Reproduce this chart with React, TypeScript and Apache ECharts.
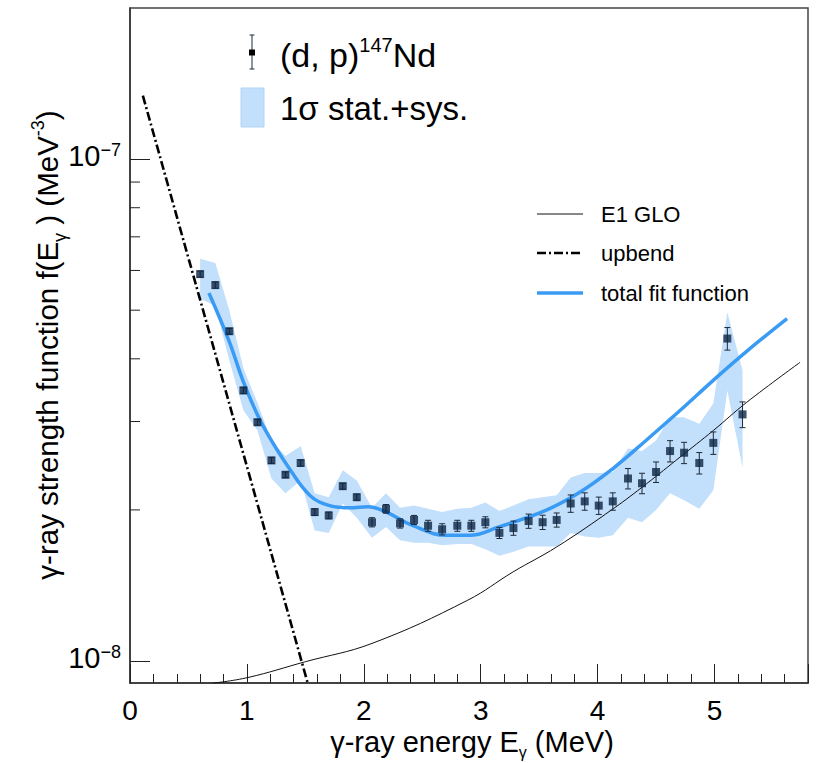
import React, { useEffect, useRef } from 'react';
import * as echarts from 'echarts';

// ---- data ----
const energies = [0.60, 0.73, 0.85, 0.97, 1.09, 1.21, 1.33, 1.46, 1.58, 1.70, 1.82, 1.94, 2.07, 2.19, 2.31, 2.43, 2.55, 2.67, 2.80, 2.92, 3.04, 3.16, 3.28, 3.41, 3.53, 3.65, 3.77, 3.89, 4.01, 4.13, 4.26, 4.38, 4.50, 4.62, 4.74, 4.87, 4.99, 5.11, 5.24];
const strength = [5.90e-8, 5.61e-8, 4.54e-8, 3.46e-8, 2.99e-8, 2.51e-8, 2.35e-8, 2.48e-8, 1.98e-8, 1.95e-8, 2.23e-8, 2.12e-8, 1.89e-8, 2.01e-8, 1.88e-8, 1.91e-8, 1.86e-8, 1.83e-8, 1.86e-8, 1.86e-8, 1.89e-8, 1.80e-8, 1.84e-8, 1.90e-8, 1.89e-8, 1.91e-8, 2.06e-8, 2.08e-8, 2.04e-8, 2.08e-8, 2.31e-8, 2.26e-8, 2.38e-8, 2.62e-8, 2.60e-8, 2.48e-8, 2.72e-8, 4.39e-8, 3.10e-8];
const strengthErr = [0.08e-8, 0.08e-8, 0.06e-8, 0.05e-8, 0.04e-8, 0.035e-8, 0.03e-8, 0.035e-8, 0.03e-8, 0.03e-8, 0.03e-8, 0.03e-8, 0.04e-8, 0.04e-8, 0.04e-8, 0.04e-8, 0.047e-8, 0.047e-8, 0.047e-8, 0.047e-8, 0.048e-8, 0.046e-8, 0.06e-8, 0.062e-8, 0.062e-8, 0.062e-8, 0.082e-8, 0.083e-8, 0.081e-8, 0.083e-8, 0.108e-8, 0.106e-8, 0.112e-8, 0.128e-8, 0.127e-8, 0.122e-8, 0.14e-8, 0.227e-8, 0.183e-8];
const bandUpper = [6.33e-8, 6.21e-8, 4.99e-8, 3.83e-8, 3.27e-8, 2.75e-8, 2.56e-8, 2.68e-8, 2.16e-8, 2.12e-8, 2.40e-8, 2.29e-8, 2.02e-8, 2.16e-8, 2.02e-8, 2.04e-8, 2.01e-8, 1.98e-8, 2.01e-8, 2.02e-8, 2.07e-8, 1.99e-8, 2.04e-8, 2.10e-8, 2.12e-8, 2.14e-8, 2.32e-8, 2.37e-8, 2.37e-8, 2.38e-8, 2.65e-8, 2.62e-8, 2.75e-8, 3.06e-8, 3.06e-8, 2.97e-8, 3.26e-8, 4.95e-8, 3.79e-8];
const bandLower = [5.27e-8, 5.10e-8, 3.97e-8, 3.16e-8, 2.88e-8, 2.31e-8, 2.16e-8, 2.29e-8, 1.82e-8, 1.80e-8, 2.06e-8, 1.93e-8, 1.76e-8, 1.85e-8, 1.74e-8, 1.72e-8, 1.72e-8, 1.70e-8, 1.71e-8, 1.71e-8, 1.67e-8, 1.62e-8, 1.65e-8, 1.69e-8, 1.69e-8, 1.69e-8, 1.80e-8, 1.77e-8, 1.76e-8, 1.78e-8, 1.93e-8, 1.89e-8, 2.00e-8, 2.16e-8, 2.09e-8, 2.01e-8, 2.19e-8, 3.46e-8, 2.43e-8];

const e1GloE = [0.705, 1.009, 1.502, 2.070, 2.890, 3.277, 3.649, 4.134, 4.420, 4.705, 4.990, 5.276, 5.732];
const e1GloF = [9.03e-9, 9.27e-9, 9.97e-9, 1.084e-8, 1.322e-8, 1.505e-8, 1.687e-8, 2.011e-8, 2.256e-8, 2.548e-8, 2.879e-8, 3.277e-8, 3.936e-8];

const upbendE = [0.11, 1.52];
const upbendF = [1.338e-7, 9.04e-9];

const fitE = [0.675, 0.846, 0.966, 1.086, 1.194, 1.337, 1.537, 1.708, 1.879, 2.036, 2.193, 2.421, 2.707, 2.907, 3.155, 3.557, 3.848, 4.131, 4.414, 4.705, 4.987, 5.270, 5.621];
const fitF = [5.41e-8, 4.35e-8, 3.62e-8, 3.11e-8, 2.79e-8, 2.47e-8, 2.14e-8, 2.04e-8, 2.02e-8, 2.03e-8, 1.98e-8, 1.86e-8, 1.78e-8, 1.78e-8, 1.85e-8, 1.996e-8, 2.168e-8, 2.418e-8, 2.750e-8, 3.155e-8, 3.62e-8, 4.13e-8, 4.81e-8];

const xTickLabels = ['0', '1', '2', '3', '4', '5'];
const yMinorTicks = [2e-8, 3e-8, 4e-8, 5e-8, 6e-8, 7e-8, 8e-8, 9e-8];

const X_MIN = 0;
const X_MAX = 5.8;
const Y_MIN = 9.04e-9;
const Y_MAX = 2.0e-7;

const FONT_NAME = 'Liberation Sans';
const FONT = "'Liberation Sans', Arial, Helvetica, sans-serif";
const BAND = '#c2dffb';
const BLUE = '#3a9bf5';
const MARK = '#0e2645';

type Piece = { t: string; size: number; dy: number };

let measureCtx: CanvasRenderingContext2D | null = null;
function measure(text: string, size: number): number {
  if (!measureCtx) measureCtx = document.createElement('canvas').getContext('2d');
  if (!measureCtx) return text.length * size * 0.55;
  measureCtx.font = `${size}px '${FONT_NAME}', Arial, sans-serif`;
  return measureCtx.measureText(text).width;
}

// a line of text made of pieces (for sub/superscripts), as a graphic group
function textLine(pieces: Piece[], x: number, y: number, align: 'left' | 'center', rotation = 0, name = '') {
  const widths = pieces.map((p) => measure(p.t, p.size));
  const total = widths.reduce((a, b) => a + b, 0);
  let cx = align === 'center' ? -total / 2 : 0;
  const children = pieces.map((p, i) => {
    const el = {
      type: 'text', x: cx, y: p.dy,
      style: {
        text: p.t, fill: '#000', fontFamily: FONT, fontSize: p.size, lineHeight: p.size,
        align: 'left', textAlign: 'left', verticalAlign: 'middle', textVerticalAlign: 'middle',
      },
    };
    cx += widths[i];
    return el;
  });
  return { type: 'group', name, x, y, rotation, z: 10, children };
}

export default function App() {
  const ref = useRef<HTMLDivElement>(null);

  useEffect(() => {
    document.body.style.margin = '0';
    if (!ref.current) return;
    const chart = echarts.init(ref.current, undefined, { renderer: 'svg' });

    const zip = (a: number[], b: number[]) => a.map((v, i) => [v, b[i]]);

    const option: any = {
      animation: false,
      backgroundColor: '#fff',
      grid: { left: 130, right: 15, top: 8, bottom: 80, show: true, borderColor: '#444', borderWidth: 1.5, backgroundColor: 'transparent' },
      xAxis: {
        type: 'value', min: X_MIN, max: X_MAX, interval: 1,
        axisLine: { show: true, lineStyle: { color: '#333', width: 1.5 } },
        axisTick: { show: true, inside: true, length: 19, lineStyle: { color: '#222', width: 1 } },
        minorTick: { show: true, splitNumber: 5, length: 9, lineStyle: { color: '#222', width: 1 } },
        splitLine: { show: false },
        axisLabel: {
          show: true, margin: 15, fontSize: 28, lineHeight: 24, fontFamily: FONT, color: '#000',
          showMaxLabel: false,
          formatter: (v: number) => (Number.isInteger(v) ? xTickLabels[v] : ''),
        },
      },
      yAxis: {
        type: 'log', logBase: 10, min: Y_MIN, max: Y_MAX,
        axisLine: { show: true, lineStyle: { color: '#333', width: 1.5 } },
        axisTick: { show: true, inside: true, length: 20, lineStyle: { color: '#222', width: 1 } },
        splitLine: { show: false },
        axisLabel: {
          show: true, margin: 9, fontFamily: FONT, color: '#000',
          showMinLabel: false, showMaxLabel: false,
          formatter: (v: number) => {
            const p = Math.log10(v);
            const r = Math.round(p);
            if (Math.abs(p - r) > 1e-6) return '';
            return `{b|10}{s|${r < 0 ? '\u2212' : ''}${Math.abs(r)}}`;
          },
          rich: {
            b: { fontSize: 29, lineHeight: 36, verticalAlign: 'top', fontFamily: FONT, color: '#000' },
            s: { fontSize: 18, lineHeight: 16, verticalAlign: 'top', fontFamily: FONT, color: '#000' },
          },
        },
      },
      series: [
        {
          name: '1σ stat.+sys.', type: 'custom', z: 1, silent: true,
          data: [[energies[0], bandUpper[0]]],
          renderItem: (_p: any, api: any) => {
            const pts: number[][] = [];
            energies.forEach((e, i) => pts.push(api.coord([e, bandUpper[i]])));
            for (let i = energies.length - 1; i >= 0; i--) pts.push(api.coord([energies[i], bandLower[i]]));
            return { type: 'polygon', shape: { points: pts }, style: { fill: BAND, stroke: 'none' } };
          },
        },
        {
          name: 'E1 GLO', type: 'line', z: 2, data: zip(e1GloE, e1GloF), showSymbol: false,
          smooth: 0.4, lineStyle: { color: '#111', width: 1 }, clip: true,
        },
        {
          name: 'upbend', type: 'line', z: 3, data: zip(upbendE, upbendF), showSymbol: false,
          lineStyle: { color: '#000', width: 2.6, type: [9, 3, 2, 3] }, clip: true,
        },
        {
          name: 'total fit function', type: 'line', z: 4, data: zip(fitE, fitF), showSymbol: false,
          smooth: 0.4, lineStyle: { color: BLUE, width: 3.5 }, clip: true,
        },
        {
          name: 'errors', type: 'custom', z: 5, silent: true,
          data: energies.map((e, i) => [e, strength[i], strengthErr[i]]),
          renderItem: (_p: any, api: any) => {
            const x = api.value(0), y = api.value(1), err = api.value(2);
            const top = api.coord([x, y + err]);
            const bot = api.coord([x, y - err]);
            const c = 3;
            const st = { stroke: '#1d2a38', lineWidth: 1 };
            return {
              type: 'group',
              children: [
                { type: 'line', shape: { x1: top[0], y1: top[1], x2: bot[0], y2: bot[1] }, style: st },
                { type: 'line', shape: { x1: top[0] - c, y1: top[1], x2: top[0] + c, y2: top[1] }, style: st },
                { type: 'line', shape: { x1: bot[0] - c, y1: bot[1], x2: bot[0] + c, y2: bot[1] }, style: st },
              ],
            };
          },
        },
        {
          name: '(d, p)147Nd', type: 'scatter', z: 6, data: zip(energies, strength),
          symbol: 'rect', symbolSize: 8, itemStyle: { color: MARK },
        },
        {
          name: 'yMinorTicks', type: 'custom', z: 7, silent: true,
          data: yMinorTicks.map((v) => [X_MIN, v]),
          renderItem: (_p: any, api: any) => {
            const p = api.coord([api.value(0), api.value(1)]);
            return { type: 'line', shape: { x1: p[0], y1: p[1], x2: p[0] + 10, y2: p[1] }, style: { stroke: '#222', lineWidth: 1 } };
          },
        },
      ],
      graphic: [
        // axis titles
        textLine([
          { t: 'γ-ray energy E', size: 29, dy: 0 },
          { t: 'γ', size: 16, dy: 10 },
          { t: ' (MeV)', size: 29, dy: 0 },
        ], 472, 742, 'center', 0, 'xTitle'),
        textLine([
          { t: 'γ-ray strength function f(E', size: 29.5, dy: 0 },
          { t: 'γ', size: 18, dy: 13 },
          { t: ' ) (MeV', size: 29.5, dy: 0 },
          { t: '-3', size: 18, dy: -9 },
          { t: ')', size: 29.5, dy: 0 },
        ], 47, 345, 'center', Math.PI / 2, 'yTitle'),
        // top legend: data points
        { type: 'line', z: 10, shape: { x1: 252, y1: 35, x2: 252, y2: 69 }, style: { stroke: '#1d2a38', lineWidth: 1 } },
        { type: 'line', z: 10, shape: { x1: 249.5, y1: 35, x2: 254.5, y2: 35 }, style: { stroke: '#1d2a38', lineWidth: 1 } },
        { type: 'line', z: 10, shape: { x1: 249.5, y1: 69, x2: 254.5, y2: 69 }, style: { stroke: '#1d2a38', lineWidth: 1 } },
        { type: 'rect', z: 11, shape: { x: 249, y: 49.5, width: 6, height: 6 }, style: { fill: '#000' } },
        textLine([
          { t: '(d, p)', size: 34, dy: 0 },
          { t: '147', size: 20, dy: -10 },
          { t: 'Nd', size: 34, dy: 0 },
        ], 280, 55, 'left', 0, 'legendData'),
        // top legend: band
        { type: 'rect', z: 10, shape: { x: 241, y: 88, width: 23, height: 39 }, style: { fill: BAND, stroke: '#b3d4f5', lineWidth: 1 } },
        {
          type: 'text', x: 280, y: 108, z: 10,
          style: {
            text: '1σ stat.+sys.', align: 'left', textAlign: 'left', verticalAlign: 'middle', textVerticalAlign: 'middle',
            fill: '#000', fontFamily: FONT, fontSize: 33,
          },
        },
        // right legend
        { type: 'line', z: 10, shape: { x1: 537, y1: 214, x2: 583, y2: 214 }, style: { stroke: '#111', lineWidth: 1 } },
        { type: 'text', x: 601, y: 214, z: 10, style: { text: 'E1 GLO', align: 'left', textAlign: 'left', verticalAlign: 'middle', textVerticalAlign: 'middle', fill: '#000', fontFamily: FONT, fontSize: 22 } },
        { type: 'line', z: 10, shape: { x1: 537, y1: 253, x2: 583, y2: 253 }, style: { stroke: '#000', lineWidth: 2.6, lineDash: [9, 3, 2, 3] } },
        { type: 'text', x: 601, y: 253, z: 10, style: { text: 'upbend', align: 'left', textAlign: 'left', verticalAlign: 'middle', textVerticalAlign: 'middle', fill: '#000', fontFamily: FONT, fontSize: 22 } },
        { type: 'line', z: 10, shape: { x1: 537, y1: 293, x2: 583, y2: 293 }, style: { stroke: BLUE, lineWidth: 3.5 } },
        { type: 'text', x: 601, y: 293, z: 10, style: { text: 'total fit function', align: 'left', textAlign: 'left', verticalAlign: 'middle', textVerticalAlign: 'middle', fill: '#000', fontFamily: FONT, fontSize: 22 } },
      ],
    };

    chart.setOption(option);
    return () => chart.dispose();
  }, []);

  return <div ref={ref} style={{ width: 823, height: 763 }} />;
}
